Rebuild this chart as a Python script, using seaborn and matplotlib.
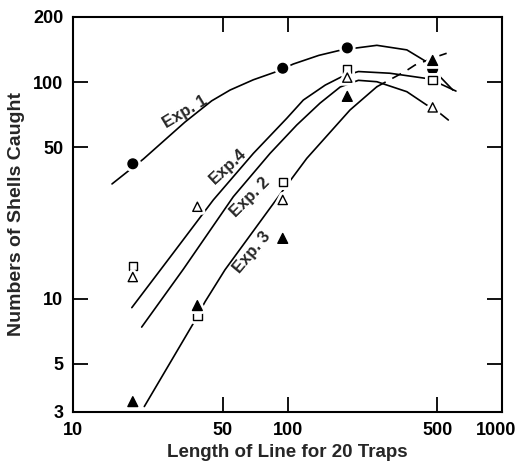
import numpy as np
import matplotlib
matplotlib.use("Agg")
import matplotlib.pyplot as plt
import matplotlib.patheffects as pe
import matplotlib.transforms as mtrans
from matplotlib.ticker import NullLocator
import seaborn as sns

# Observed catches (markers), line length for 20 traps
LINE_LENGTH = [19, 38, 95, 190, 475]
EXP1_LENGTH = [19, 95, 190, 475]
EXP1_CAUGHT = [42, 116, 144, 115]           # filled circles
EXP4_CAUGHT = [14.2, 8.3, 34.7, 115, 102]   # open squares
EXP2_CAUGHT = [12.6, 26.6, 28.6, 105, 76.5] # open triangles
EXP3_CAUGHT = [3.35, 9.3, 19.0, 86, 126]    # filled triangles

# Fitted curves
EXP1_CURVE_X = [15.2, 21.3, 33.3, 44.3, 54, 69.3, 89.1, 106.4, 140, 179, 261, 360, 446, 475, 590]
EXP1_CURVE_Y = [33.9, 44.2, 65.5, 82, 92, 102.6, 112, 121.3, 133, 141, 148, 141, 124, 115, 92]
EXP4_CURVE_X = [18.8, 29.1, 45.1, 69.3, 99.2, 118.5, 150, 179, 214, 300, 446, 475, 610]
EXP4_CURVE_Y = [9.1, 16.1, 28.6, 46.9, 68.1, 82.7, 97, 106, 112, 110, 104, 102, 91]
EXP2_CURVE_X = [20.9, 32.7, 55.9, 82.9, 110.4, 141.7, 176, 214, 261, 360, 446, 475, 562]
EXP2_CURVE_Y = [7.4, 13.7, 29.6, 46.9, 63.4, 80, 95, 102, 100.5, 90.4, 78.4, 76.5, 66.9]
EXP3_CURVE_X = [21.5, 36.4, 41.3, 51.1, 95.6, 123, 195.6, 261]
EXP3_CURVE_Y = [3.18, 7.7, 9.7, 13.6, 31.8, 44.5, 74.4, 95.3]
EXP3_DASH_X = [261, 353, 393, 505, 552]
EXP3_DASH_Y = [95.3, 112, 120, 132, 136]

X_TICKS = [10, 50, 100, 500, 1000]
Y_TICKS = [3, 5, 10, 50, 100, 200]

sns.set_style("ticks")
plt.rcParams["font.family"] = ["Liberation Sans", "DejaVu Sans"]
plt.rcParams["font.weight"] = "bold"

fig = plt.figure(figsize=(5.19, 4.62), dpi=100)
ax = fig.add_axes([73 / 519, 50 / 462, 429 / 519, 395 / 462])
ax.set_xscale("log")
ax.set_yscale("log")

# curves
line_kw = dict(color="black", linewidth=1.2, sort=False, estimator=None, ax=ax)
sns.lineplot(x=EXP1_CURVE_X, y=EXP1_CURVE_Y, **line_kw)
sns.lineplot(x=EXP4_CURVE_X, y=EXP4_CURVE_Y, **line_kw)
sns.lineplot(x=EXP2_CURVE_X, y=EXP2_CURVE_Y, **line_kw)
sns.lineplot(x=EXP3_CURVE_X, y=EXP3_CURVE_Y, **line_kw)
sns.lineplot(x=EXP3_DASH_X, y=EXP3_DASH_Y, linestyle=(0, (6, 4.5)), **line_kw)
for ln in ax.lines:
    ln.set_solid_joinstyle("round")

# observed points, white halo breaks the curves like the original
halo = [pe.withStroke(linewidth=5, foreground="white")]
pt_kw = dict(edgecolor="black", linewidth=1.0, zorder=5, ax=ax, legend=False)
sns.scatterplot(x=EXP1_LENGTH, y=EXP1_CAUGHT, marker="o", s=48, color="black", **pt_kw).collections[-1].set_path_effects(halo)
sns.scatterplot(x=LINE_LENGTH, y=EXP4_CAUGHT, marker="s", s=36, color="white", **pt_kw).collections[-1].set_path_effects(halo)
sns.scatterplot(x=LINE_LENGTH, y=EXP2_CAUGHT, marker="^", s=44, color="white", **pt_kw).collections[-1].set_path_effects(halo)
sns.scatterplot(x=LINE_LENGTH, y=EXP3_CAUGHT, marker="^", s=50, color="black", **pt_kw).collections[-1].set_path_effects(halo)

# curve labels
lab_kw = dict(fontsize=12, fontweight="bold", ha="center", va="center", rotation_mode="anchor")
ax.text(33.3, 72.8, "Exp. 1", rotation=31, **lab_kw)
ax.text(52.8, 41, "Exp.4", rotation=43, **lab_kw)
ax.text(66.8, 29.5, "Exp. 2", rotation=45, **lab_kw)
ax.text(68.3, 16.3, "Exp. 3", rotation=50, **lab_kw)

ax.set_xlim(10, 1000)
ax.set_ylim(3, 200)
ax.set_xticks(X_TICKS, labels=[str(v) for v in X_TICKS])
ax.set_yticks(Y_TICKS, labels=[str(v) for v in Y_TICKS])
ax.xaxis.set_minor_locator(NullLocator())
ax.yaxis.set_minor_locator(NullLocator())
ax.tick_params(which="major", direction="in", top=True, right=True,
               length=10.5, width=1.3, labelsize=13, pad=7, colors="black")
for sp in ax.spines.values():
    sp.set_linewidth(1.5)
    sp.set_color("black")

# the "1000" label sits a little left of its tick in the original
last = ax.get_xticklabels()[-1]
last.set_transform(last.get_transform() + mtrans.ScaledTranslation(-6 / 100, 0, fig.dpi_scale_trans))

ax.set_xlabel("Length of Line for 20 Traps", fontsize=13.5, fontweight="bold", labelpad=4)
ax.set_ylabel("Numbers of Shells Caught", fontsize=14, fontweight="bold", labelpad=6)

fig.savefig("out.png", dpi=100, facecolor="white")
